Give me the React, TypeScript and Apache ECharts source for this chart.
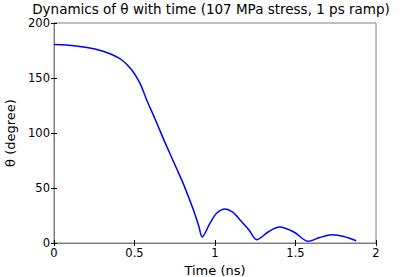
import React, { useEffect, useRef } from "react";
import * as echarts from "echarts";

const timeNs = [0, 0.081, 0.205, 0.253, 0.336, 0.419, 0.482, 0.533, 0.575, 0.627, 0.689, 0.762, 0.803, 0.865, 0.9, 0.92, 0.969, 1.01, 1.062, 1.11, 1.156, 1.21, 1.259, 1.33, 1.4, 1.49, 1.58, 1.65, 1.726, 1.8, 1.877];
const thetaDeg = [180.5, 180, 177.8, 176.4, 172.7, 166.6, 157.5, 145.5, 130.3, 113, 91.5, 67.5, 54, 30.5, 15, 5.5, 18, 27, 31, 28, 21, 12, 3, 10, 14.5, 10, 1.5, 5, 7.5, 6, 2];
const xTicks = [0, 0.5, 1, 1.5, 2];
const yTicks = [0, 50, 100, 150, 200];
const titleText = "Dynamics of θ with time (107 MPa stress, 1 ps ramp)";

const FONT = "DejaVu Sans";

export default function App() {
  const ref = useRef<HTMLDivElement>(null);
  useEffect(() => {
    document.body.style.margin = "0";
    const chart = echarts.init(ref.current!, null, { renderer: "svg" });
    const data = timeNs.map((t, i) => [t, thetaDeg[i]]);
    const gray = "#808080";
    chart.setOption({
      animation: false,
      backgroundColor: "#ffffff",
      graphic: [
        {
          type: "text",
          x: 211,
          y: 9,
          style: {
            text: titleText,
            fontFamily: FONT,
            fontSize: 13.5,
            fill: "#000",
            align: "center",
            verticalAlign: "middle",
          },
        },
      ],
      grid: {
        left: 54,
        right: 39,
        top: 23,
        bottom: 34,
        show: true,
        borderColor: gray,
        borderWidth: 1,
        containLabel: false,
        outerBoundsMode: "none",
      },
      xAxis: [
        {
          type: "value",
          min: xTicks[0],
          max: xTicks[xTicks.length - 1],
          interval: 0.5,
          name: "Time (ns)",
          nameLocation: "middle",
          nameGap: 16.5,
          nameTextStyle: { fontFamily: FONT, fontSize: 13, color: "#000" },
          axisLine: { lineStyle: { color: "#000" } },
          axisTick: { inside: true, length: 3, lineStyle: { color: "#000" } },
          axisLabel: { fontFamily: FONT, fontSize: 11.5, color: "#000", margin: 4 },
          splitLine: { show: false },
        },
        {
          type: "value",
          position: "top",
          min: 0,
          max: 2,
          interval: 0.5,
          axisLine: { lineStyle: { color: gray } },
          axisTick: { inside: true, length: 3, lineStyle: { color: "#000" } },
          axisLabel: { show: false },
          splitLine: { show: false },
        },
      ],
      yAxis: [
        {
          type: "value",
          min: yTicks[0],
          max: yTicks[yTicks.length - 1],
          interval: 50,
          name: "θ (degree)",
          nameLocation: "middle",
          nameGap: 27,
          nameTextStyle: { fontFamily: FONT, fontSize: 13, color: "#000" },
          axisLine: { show: true, lineStyle: { color: gray } },
          axisTick: { show: true, inside: true, length: 3, lineStyle: { color: "#000" } },
          axisLabel: { fontFamily: FONT, fontSize: 11.5, color: "#000", margin: 4 },
          splitLine: { show: false },
        },
        {
          type: "value",
          position: "right",
          min: 0,
          max: 200,
          interval: 50,
          axisLine: { show: true, lineStyle: { color: gray } },
          axisTick: { show: true, inside: true, length: 3, lineStyle: { color: "#000" } },
          axisLabel: { show: false },
          splitLine: { show: false },
        },
      ],
      series: [
        {
          type: "line",
          data,
          xAxisIndex: 0,
          yAxisIndex: 0,
          showSymbol: false,
          smooth: 0.3,
          lineStyle: { color: "#0000ff", width: 1.5 },
        },
      ],
    });
    return () => chart.dispose();
  }, []);
  return <div ref={ref} style={{ position: "absolute", left: 0, top: 0, width: 415, height: 277 }} />;
}
